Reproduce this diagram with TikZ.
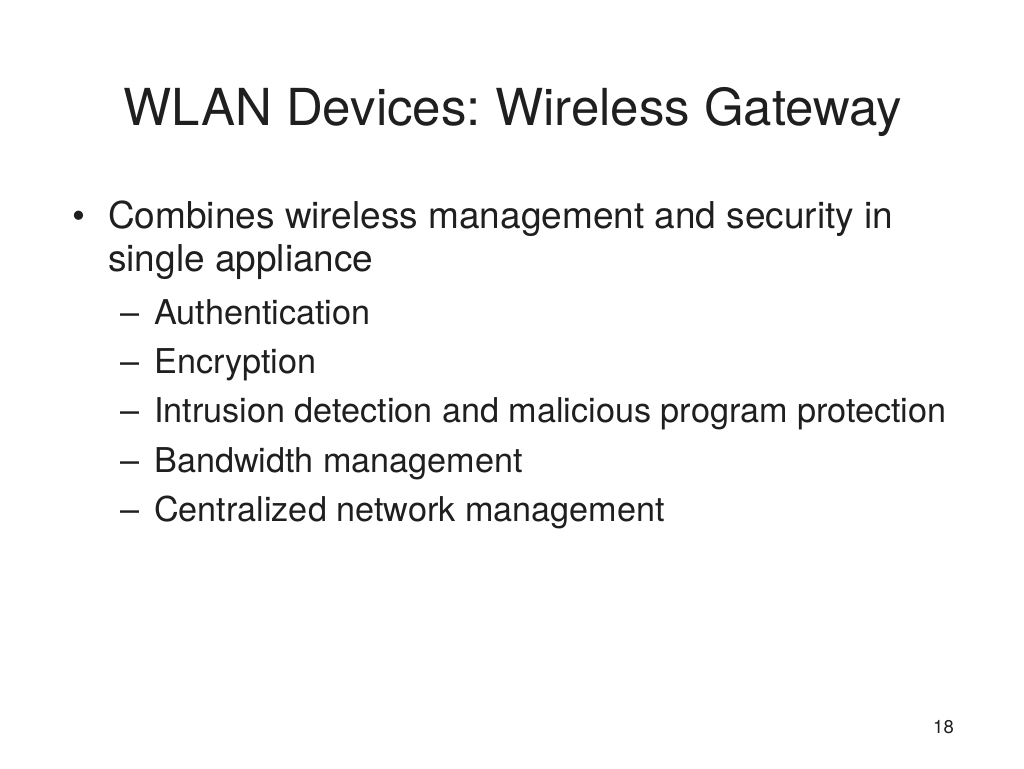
\documentclass[tikz,border=0pt]{standalone}
\usepackage{fontspec}
\setmainfont{TeX Gyre Heros}
\frenchspacing
\begin{document}
\begin{tikzpicture}[x=1pt,y=-1pt,
  txt/.style={inner sep=0pt,anchor=base west,text=black!88},
  ttl/.style={inner sep=0pt,anchor=base,text=black!88,font=\fontsize{51}{54}\selectfont},
  lvl1/.style={txt,font=\fontsize{37}{44}\selectfont},
  lvl2/.style={txt,font=\fontsize{34.2}{40}\selectfont},
  pnum/.style={txt,font=\fontsize{18.5}{22}\selectfont}]
\useasboundingbox[fill=white] (0,0) rectangle (1024,768);
\node[ttl] (title) at (513,125) {WLAN Devices: Wireless Gateway};
\node[lvl1] (b1) at (72,228) {\textbullet};
\node[lvl1] (l1) at (108,228) {Combines wireless management and security in};
\node[lvl1] (l1b) at (108,271) {single appliance};
\node[lvl2] (d1) at (120,324) {--};
\node[lvl2] (s1) at (154,324) {Authentication};
\node[lvl2] (d2) at (120,373) {--};
\node[lvl2] (s2) at (154,373) {Encryption};
\node[lvl2] (d3) at (120,422) {--};
\node[lvl2] (s3) at (154,422) {Intrusion detection and malicious program protection};
\node[lvl2] (d4) at (120,472) {--};
\node[lvl2] (s4) at (154,472) {Bandwidth management};
\node[lvl2] (d5) at (120,521) {--};
\node[lvl2] (s5) at (154,521) {Centralized network management};
\node[pnum] (pg) at (933,733) {18};
\end{tikzpicture}
\end{document}
